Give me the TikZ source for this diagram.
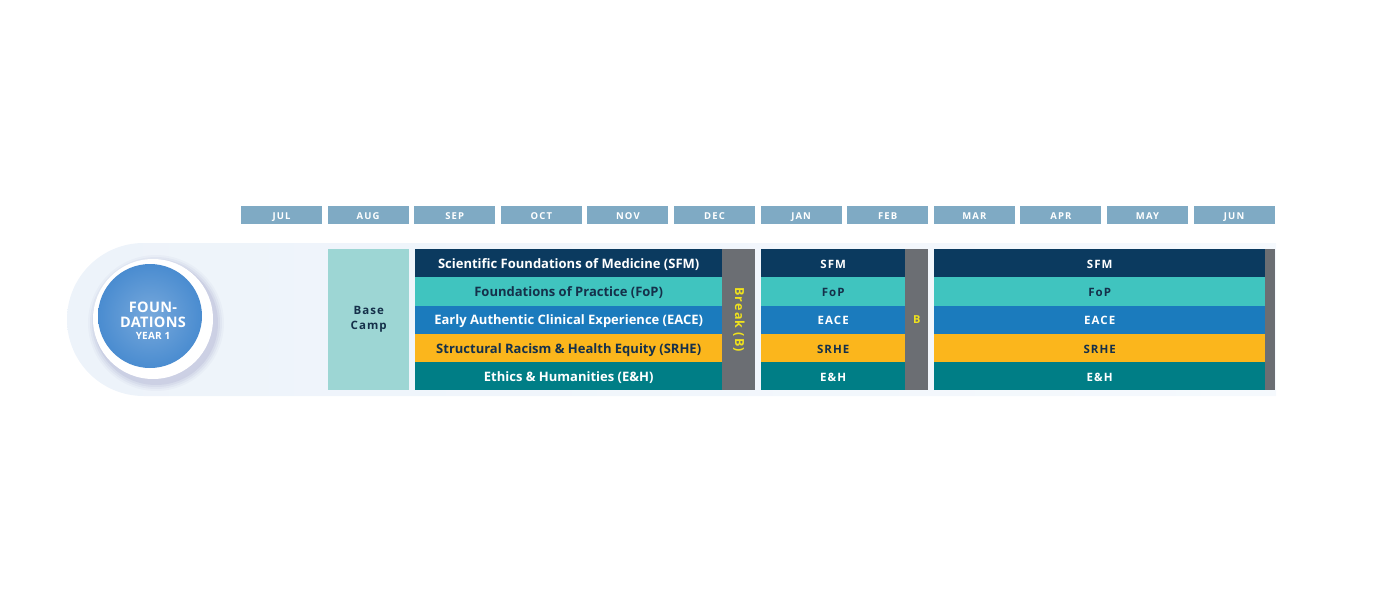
\documentclass[tikz,border=0pt]{standalone}
\usepackage{fontspec}
\setmainfont{Open Sans}
\newfontfamily\widefont[LetterSpace=9]{Open Sans}
\newfontfamily\monthfont[LetterSpace=12]{Open Sans}
\newfontfamily\badgefont[LetterSpace=2]{Open Sans}
\usetikzlibrary{positioning}

\definecolor{monthblue}{HTML}{7FAAC4}
\definecolor{pillleft}{HTML}{EDF3FA}
\definecolor{pillright}{HTML}{F5F9FD}
\definecolor{campteal}{HTML}{9DD6D4}
\definecolor{sfmnavy}{HTML}{0B3A5F}
\definecolor{fopteal}{HTML}{40C4BF}
\definecolor{eaceblue}{HTML}{1B7BBD}
\definecolor{srheyellow}{HTML}{FBB61C}
\definecolor{ehteal}{HTML}{007E86}
\definecolor{breakgray}{HTML}{6B6E73}
\definecolor{breakyellow}{HTML}{F0E21C}
\definecolor{inknavy}{HTML}{15304A}
\definecolor{ballblue}{HTML}{4A8CD0}

\tikzset{
  month/.style={fill=monthblue, text=white, minimum width=81pt, minimum height=18pt,
    inner sep=0pt, text height=0.72em+1pt, text depth=0pt,
    font=\monthfont\bfseries\fontsize{9.5}{10}\selectfont},
  course/.style={minimum height=28.2pt, inner sep=0pt, anchor=north west,
    text height=0.72em+3pt, text depth=0pt, font=\bfseries\fontsize{13}{13}\selectfont},
  abbrev/.style={course, font=\widefont\bfseries\fontsize{11.5}{12}\selectfont},
  breakbar/.style={fill=breakgray, inner sep=0pt, anchor=north west, minimum height=141pt},
}

\begin{document}
\begin{tikzpicture}[x=1pt,y=-1pt]
  \useasboundingbox (0,0) rectangle (1376,589);

  % background band
  \shade[left color=pillleft, right color=pillright]
    (1276,243) -- (143.5,243) arc[start angle=270, end angle=90, radius=76.5]
    -- (1276,396) -- cycle;

  % months
  \foreach \m [count=\i from 0] in {JUL,AUG,SEP,OCT,NOV,DEC,JAN,FEB,MAR,APR,MAY,JUN}
    \node[month] (m\i) at (281.5+\i*86.6,215) {\m};

  % base camp
  \node[fill=campteal, minimum width=81pt, minimum height=141pt, inner sep=0pt,
    anchor=north west, align=center, text=inknavy,
    font=\widefont\bfseries\fontsize{11.5}{15}\selectfont] (camp) at (328,249) {Base\\Camp};

  % courses
  \foreach \abbr/\full/\bg/\fg [count=\i from 0] in {
      SFM/{Scientific Foundations of Medicine (SFM)}/sfmnavy/white,
      FoP/{Foundations of Practice (FoP)}/fopteal/inknavy,
      EACE/{Early Authentic Clinical Experience (EACE)}/eaceblue/white,
      SRHE/{Structural Racism \& Health Equity (SRHE)}/srheyellow/inknavy,
      E\&H/{Ethics \& Humanities (E\&H)}/ehteal/white} {
    \node[course, fill=\bg, text=\fg, minimum width=307pt] (fa\i) at (415,249+\i*28.2) {\full};
    \node[abbrev, fill=\bg, text=\fg, minimum width=144pt] (fb\i) at (761,249+\i*28.2) {\abbr};
    \node[abbrev, fill=\bg, text=\fg, minimum width=331pt] (fc\i) at (934,249+\i*28.2) {\abbr};
  }

  % breaks
  \node[breakbar, minimum width=33pt] (brk1) at (722,249) {};
  \node[breakbar, minimum width=23pt] (brk2) at (905,249) {};
  \node[breakbar, minimum width=10pt] (brk3) at (1265,249) {};
  \node[rotate=-90, text=breakyellow, text height=0.72em, text depth=0pt,
    font=\widefont\bfseries\fontsize{12.5}{13}\selectfont] at (brk1.center) {Break (B)};
  \node[text=breakyellow, text height=0.72em, text depth=0pt,
    font=\bfseries\fontsize{11}{12}\selectfont] at (brk2.center) {B};

  % year badge
  \foreach \r/\o in {68/0.025,66/0.03,64/0.04,62/0.05}
    \fill[black!60!blue, opacity=\o] (156,323) circle[radius=\r];
  \fill[white] (153,319) circle[radius=60];
  \shade[inner color=ballblue!75!white, outer color=ballblue] (150,316) circle[radius=52];
  \node[align=center, text=white, inner sep=0pt, font=\badgefont\bfseries\fontsize{14.5}{15}\selectfont]
    (badge) at (153,315) {FOUN-\\DATIONS};
  \node[below=4pt of badge, inner sep=0pt, text=white,
    font=\badgefont\bfseries\fontsize{10}{10}\selectfont] (year) {YEAR 1};
\end{tikzpicture}
\end{document}
